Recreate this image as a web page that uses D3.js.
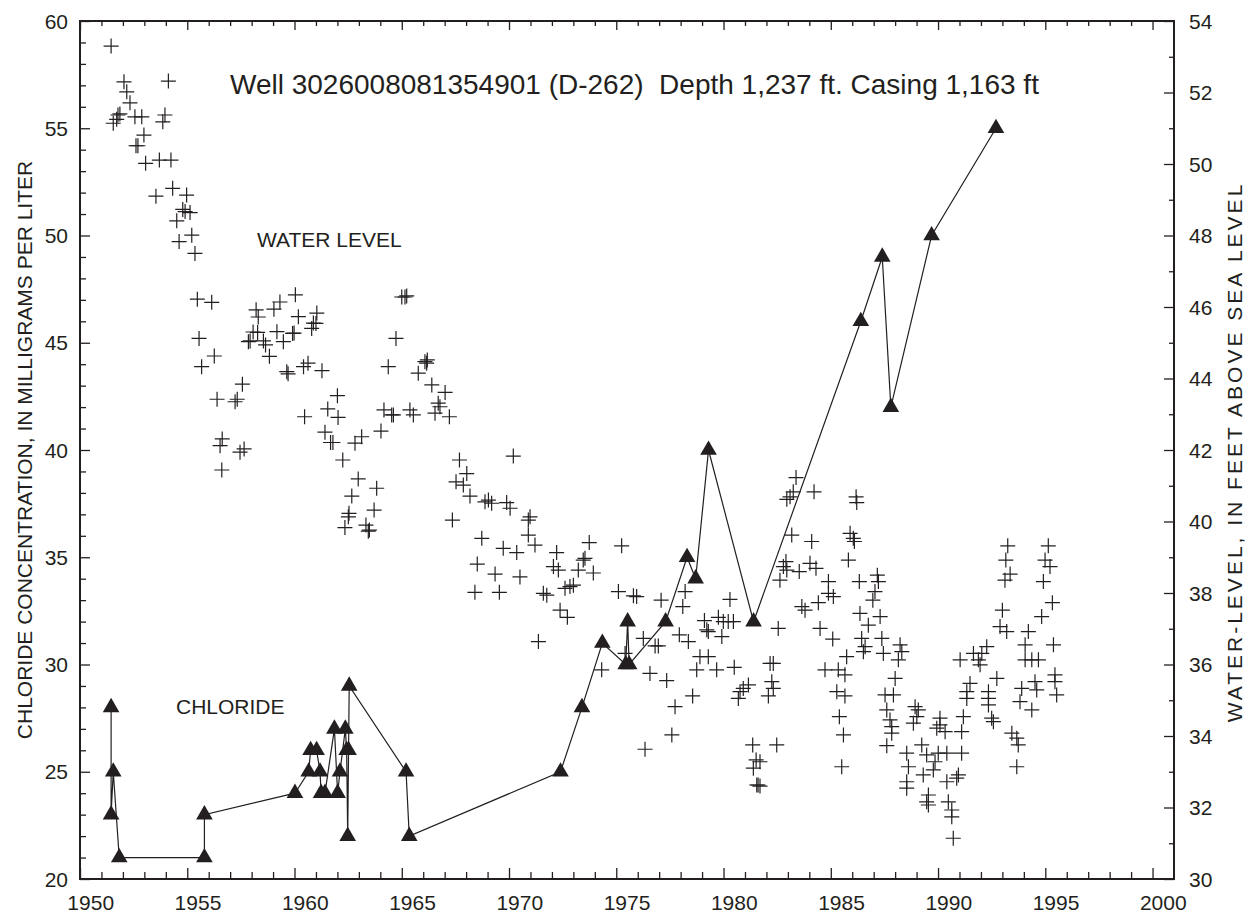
<!DOCTYPE html>
<html>
<head>
<meta charset="utf-8">
<script src="https://cdn.jsdelivr.net/npm/d3@7"></script>
<style>
  body { margin: 0; background: #fff; }
  text { font-family: "Liberation Sans", Arial, sans-serif; fill: #231f20; }
</style>
</head>
<body>
<svg id="chart"></svg>
<script>
// chloride samples (triangles, joined by a line), mg/L
var chlYears = [1951.45, 1951.45, 1951.55, 1951.83, 1955.8, 1955.8, 1960.02, 1960.66, 1960.75, 1961.03,
  1961.19, 1961.24, 1961.42, 1961.86, 1962.01, 1962.12, 1962.37, 1962.43, 1962.48, 1962.52, 1962.55,
  1965.2, 1965.35, 1972.4, 1973.4, 1974.35, 1975.44, 1975.53, 1975.6, 1977.3, 1978.3, 1978.7, 1979.3,
  1981.4, 1986.4, 1987.4, 1987.8, 1989.7, 1992.7];
var chlValues = [28, 23, 25, 21, 21, 23, 24, 25, 26, 26,
  25, 24, 24, 27, 24, 25, 27, 26, 22, 26, 29,
  25, 22, 25, 28, 31, 30, 32, 30, 32, 35, 34, 40,
  32, 46, 49, 42, 50, 55];

// water-level measurements (crosses), feet above sea level
var wlYears = [1951.45, 1952.05, 1954.12, 1952.18, 1952.33, 1951.77, 1951.86, 1951.55, 1951.71, 1952.56,
  1952.88, 1953.96, 1953.86, 1952.98, 1952.61, 1952.70, 1953.06, 1953.70, 1954.24, 1953.54,
  1954.32, 1954.97, 1954.79, 1954.90, 1955.13, 1954.51, 1954.62, 1955.21, 1955.36, 1955.47,
  1956.14, 1955.55, 1956.26, 1955.67, 1957.57, 1956.39, 1957.23, 1957.33, 1956.63, 1956.53,
  1957.46, 1957.65, 1956.61, 1958.21, 1958.31, 1959.04, 1959.32, 1960.04, 1960.18, 1961.04,
  1960.88, 1960.80, 1961.00, 1958.07, 1958.28, 1957.85, 1957.93, 1958.55, 1958.65, 1959.18,
  1959.91, 1959.98, 1959.48, 1958.83, 1959.64, 1959.70, 1960.42, 1960.63, 1961.28, 1960.47,
  1961.55, 1962.00, 1961.42, 1961.68, 1961.79, 1962.03, 1965.00, 1965.15, 1965.23, 1962.25,
  1963.13, 1962.82, 1964.03, 1964.17, 1964.53, 1964.61, 1965.38, 1965.54, 1964.73, 1964.37,
  1965.77, 1966.16, 1966.19, 1966.08, 1966.40, 1967.02, 1966.70, 1966.78, 1966.55, 1967.22,
  1967.69, 1968.03, 1962.97, 1963.83, 1962.67, 1963.71, 1962.51, 1962.54, 1962.35, 1963.33,
  1963.44, 1963.49, 1967.53, 1967.87, 1968.18, 1967.36, 1968.73, 1968.52, 1970.20, 1968.88,
  1969.04, 1969.19, 1969.89, 1970.05, 1970.98, 1970.90, 1970.90, 1969.73, 1970.36, 1971.21,
  1969.35, 1970.51, 1972.22, 1973.74, 1975.25, 1973.46, 1973.54, 1972.07, 1972.30, 1973.23,
  1973.93, 1968.41, 1969.55, 1971.60, 1971.76, 1972.61, 1972.84, 1973.00, 1972.38, 1972.72,
  1971.37, 1975.10, 1975.80, 1975.95, 1977.09, 1978.21, 1978.10, 1980.30, 1979.11, 1979.22,
  1979.76, 1979.99, 1980.22, 1980.46, 1979.29, 1979.92, 1977.94, 1978.36, 1976.26, 1976.81,
  1976.96, 1975.41, 1974.32, 1976.57, 1977.35, 1978.90, 1979.29, 1978.75, 1979.68, 1980.50,
  1980.77, 1980.92, 1981.16, 1980.69, 1978.56, 1977.74, 1977.59, 1976.34, 1981.36, 1981.52,
  1981.70, 1981.39, 1981.55, 1981.61, 1981.70,
  1983.38, 1983.25, 1983.10, 1982.95, 1984.22, 1986.18, 1986.21, 1983.18, 1984.11, 1985.90,
  1986.05, 1986.10, 1985.82, 1982.91, 1982.79, 1982.95, 1982.63, 1983.53, 1984.03, 1984.31,
  1984.89, 1984.89, 1985.12, 1984.42, 1983.65, 1983.80, 1986.33, 1987.17, 1987.22, 1987.06,
  1986.96, 1986.36, 1987.30, 1993.25, 1993.16, 1993.36, 1993.12, 1995.14, 1994.99, 1995.22,
  1994.91, 1995.33, 1993.00, 1994.83, 1982.55, 1984.50, 1985.09, 1986.75, 1986.44, 1986.60,
  1986.52, 1987.38, 1985.74, 1987.45, 1988.23, 1988.31, 1988.15, 1982.17, 1982.32, 1984.73,
  1985.35, 1985.66, 1988.00, 1982.25, 1982.32, 1982.09, 1985.28, 1985.66, 1987.53, 1987.92,
  1985.40, 1987.61, 1985.59, 1988.93, 1989.08, 1989.01, 1987.76, 1987.84, 1987.84, 1988.85,
  1990.09, 1990.09, 1989.94, 1990.33, 1987.61, 1988.54, 1989.24, 1988.62, 1989.47, 1990.01,
  1990.41, 1991.10, 1989.86, 1989.78, 1989.31, 1988.54, 1988.54, 1990.41, 1990.87, 1990.95,
  1989.55, 1991.10, 1991.03, 1991.65, 1991.88, 1991.96, 1992.27, 1992.04, 1991.49, 1991.34,
  1991.34, 1991.18, 1992.35, 1992.35, 1992.74, 1992.35, 1992.50, 1992.58, 1992.89, 1993.20,
  1994.21, 1994.06, 1995.38, 1994.06, 1994.37, 1994.68, 1993.90, 1994.52, 1994.60, 1995.45,
  1995.45, 1995.53, 1993.82, 1994.37, 1993.44, 1993.67, 1993.74, 1993.67, 1982.48, 1985.51,
  1989.47, 1989.55, 1990.48, 1990.64, 1990.64, 1990.71];
var wlLevels = [53.30, 52.30, 52.32, 52.02, 51.71, 51.37, 51.40, 51.14, 51.25, 51.32,
  51.32, 51.37, 51.18, 50.81, 50.51, 50.51, 50.02, 50.11, 50.11, 49.10,
  49.32, 49.13, 48.73, 48.67, 48.64, 48.41, 47.83, 48.01, 47.50, 46.22,
  46.13, 45.12, 44.63, 44.33, 43.84, 43.42, 43.35, 43.42, 42.31, 42.12,
  41.94, 42.03, 41.44, 45.92, 45.72, 45.94, 46.14, 46.34, 45.73, 45.83,
  45.55, 45.40, 45.54, 45.30, 45.29, 45.03, 45.05, 45.05, 44.94, 45.31,
  45.26, 45.27, 45.03, 44.62, 44.19, 44.13, 44.33, 44.43, 44.22, 42.93,
  43.15, 43.52, 42.50, 42.21, 42.21, 42.91, 46.28, 46.28, 46.31, 41.72,
  42.37, 42.19, 42.53, 43.12, 42.98, 42.98, 43.12, 42.98, 45.12, 44.33,
  44.15, 44.43, 44.52, 44.47, 43.82, 43.61, 43.31, 43.21, 43.03, 42.93,
  41.72, 41.34, 41.19, 40.93, 40.71, 40.32, 40.13, 40.23, 39.83, 39.90,
  39.73, 39.76, 41.11, 41.02, 40.71, 40.04, 39.53, 38.81, 41.83, 40.55,
  40.60, 40.51, 40.53, 40.37, 40.13, 40.04, 39.62, 39.25, 39.13, 39.34,
  38.53, 38.45, 39.13, 39.41, 39.32, 38.92, 38.97, 38.74, 38.64, 38.64,
  38.56, 38.02, 38.02, 37.99, 37.94, 38.13, 38.18, 38.22, 37.52, 37.32,
  36.64, 38.04, 37.92, 37.90, 37.80, 38.04, 37.62, 37.82, 37.23, 36.97,
  37.32, 37.20, 37.20, 37.20, 36.92, 36.78, 36.83, 36.64, 36.73, 36.52,
  36.52, 36.31, 35.85, 35.75, 35.55, 36.22, 36.22, 35.85, 35.85, 35.92,
  35.24, 35.33, 35.43, 35.05, 35.12, 34.82, 34.03, 33.63, 33.75, 33.33,
  33.28, 33.10, 32.63, 32.63, 32.60,
  41.23, 40.83, 40.69, 40.62, 40.83, 40.69, 40.53, 39.62, 39.44, 39.67,
  39.53, 39.44, 38.92, 38.88, 38.74, 38.64, 38.36, 38.60, 38.83, 38.69,
  38.32, 37.99, 37.90, 37.73, 37.62, 37.52, 38.32, 38.50, 38.32, 38.04,
  37.80, 37.43, 37.34, 39.32, 38.92, 38.53, 38.36, 39.32, 38.92, 38.74,
  38.32, 37.73, 37.52, 37.34, 37.01, 37.01, 36.71, 37.10, 36.73, 36.50,
  36.36, 36.73, 36.22, 36.31, 36.55, 36.36, 36.13, 36.03, 36.03, 35.85,
  35.85, 35.71, 35.61, 35.52, 35.33, 35.12, 35.24, 35.12, 35.15, 35.15,
  34.54, 34.73, 34.03, 34.82, 34.73, 34.54, 34.45, 34.26, 34.08, 34.36,
  34.50, 34.31, 34.22, 34.12, 33.73, 33.52, 33.75, 33.14, 33.47, 33.52,
  33.52, 33.52, 33.28, 33.05, 32.91, 32.72, 32.54, 32.72, 32.82, 32.91,
  32.35, 34.12, 36.13, 36.31, 36.13, 35.99, 36.50, 36.31, 35.47, 35.24,
  35.05, 34.54, 35.24, 35.05, 35.61, 34.87, 34.50, 34.40, 37.06, 36.92,
  36.92, 36.55, 36.55, 36.13, 36.13, 36.13, 35.33, 35.52, 35.29, 35.71,
  35.52, 35.15, 34.96, 34.73, 34.08, 33.94, 33.75, 33.14, 33.75, 33.14,
  32.16, 32.07, 32.16, 31.93, 31.74, 31.14];

var xTickYears = d3.range(1950, 2001, 5);
var clTicks = d3.range(20, 61, 5);
var wlTicks = d3.range(30, 55, 2);

var title = 'Well 3026008081354901 (D-262)  Depth 1,237 ft. Casing 1,163 ft';

var width = 1248,
  height = 914;
var ink = '#231f20';

var x = d3.scaleLinear().domain([1950, 2001]).range([80, 1174]);
var yCl = d3.scaleLinear().domain([20, 60]).range([879, 21]);
var yWl = d3.scaleLinear().domain([30, 54]).range([879, 21]);

var svg = d3.select('#chart')
  .attr('width', width)
  .attr('height', height);

svg.append('rect')
  .attr('width', width)
  .attr('height', height)
  .attr('fill', '#fff');

// inward tick marks on all four sides
function ticks(axis, vals, size) {
  return function(g) {
    g.call(axis.tickValues(vals).tickSize(size).tickFormat(''));
    g.select('.domain').remove();
    g.selectAll('line').attr('stroke', ink).attr('stroke-width', 1.3);
  };
}

var allYears = d3.range(1951, 2001);
var x0 = x.range()[0], x1 = x.range()[1], y0 = yCl.range()[1], y1 = yCl.range()[0];

svg.append('g').attr('transform', 'translate(0,' + y1 + ')')
  .call(ticks(d3.axisBottom(x), allYears.filter(function(d) { return d % 5; }), -7));
svg.append('g').attr('transform', 'translate(0,' + y1 + ')')
  .call(ticks(d3.axisBottom(x), xTickYears, -11));
svg.append('g').attr('transform', 'translate(0,' + y0 + ')')
  .call(ticks(d3.axisTop(x), allYears.filter(function(d) { return d % 5; }), -5));
svg.append('g').attr('transform', 'translate(0,' + y0 + ')')
  .call(ticks(d3.axisTop(x), xTickYears, -9));

svg.append('g').attr('transform', 'translate(' + x0 + ',0)')
  .call(ticks(d3.axisLeft(yCl), d3.range(21, 60).filter(function(d) { return d % 5; }), -6));
svg.append('g').attr('transform', 'translate(' + x0 + ',0)')
  .call(ticks(d3.axisLeft(yCl), clTicks, -10));
svg.append('g').attr('transform', 'translate(' + x1 + ',0)')
  .call(ticks(d3.axisRight(yWl), d3.range(31, 54, 2), -5));
svg.append('g').attr('transform', 'translate(' + x1 + ',0)')
  .call(ticks(d3.axisRight(yWl), wlTicks, -10));

svg.append('rect')
  .attr('x', x0)
  .attr('y', y0)
  .attr('width', x1 - x0)
  .attr('height', y1 - y0)
  .attr('fill', 'none')
  .attr('stroke', ink)
  .attr('stroke-width', 2);

// tick labels (year labels sit in the middle of the year)
svg.append('g').selectAll('text')
  .data(xTickYears)
  .enter().append('text')
  .attr('x', function(d) { return x(d + 0.5); })
  .attr('y', 910)
  .attr('text-anchor', 'middle')
  .attr('font-size', 21)
  .text(function(d) { return d; });

svg.append('g').selectAll('text')
  .data(clTicks)
  .enter().append('text')
  .attr('x', 68)
  .attr('y', function(d) { return yCl(d); })
  .attr('dy', '0.36em')
  .attr('text-anchor', 'end')
  .attr('font-size', 21)
  .text(function(d) { return d; });

svg.append('g').selectAll('text')
  .data(wlTicks)
  .enter().append('text')
  .attr('x', 1189)
  .attr('y', function(d) { return yWl(d); })
  .attr('dy', '0.36em')
  .attr('font-size', 21)
  .text(function(d) { return d; });

// axis titles
svg.append('text')
  .attr('transform', 'translate(32,450)rotate(-90)')
  .attr('text-anchor', 'middle')
  .attr('font-size', 21)
  .text('CHLORIDE CONCENTRATION, IN MILLIGRAMS PER LITER');

svg.append('text')
  .attr('transform', 'translate(1242,452)rotate(-90)')
  .attr('text-anchor', 'middle')
  .attr('font-size', 21)
  .attr('letter-spacing', 3)
  .text('WATER-LEVEL, IN FEET ABOVE SEA LEVEL');

svg.append('text')
  .attr('x', 230)
  .attr('y', 94)
  .attr('font-size', 28)
  .style('white-space', 'pre')
  .text(title);

svg.append('text')
  .attr('x', 257)
  .attr('y', 247)
  .attr('font-size', 21)
  .text('WATER LEVEL');

svg.append('text')
  .attr('x', 176)
  .attr('y', 714)
  .attr('font-size', 21)
  .text('CHLORIDE');

// water level crosses
var wl = wlYears.map(function(d, i) { return {year: d, level: wlLevels[i]}; });
svg.append('g')
  .selectAll('path')
  .data(wl)
  .enter().append('path')
  .attr('transform', function(d) { return 'translate(' + x(d.year) + ',' + yWl(d.level) + ')'; })
  .attr('d', 'M-7.5,0H7.5M0,-7.5V7.5')
  .attr('stroke', ink)
  .attr('stroke-width', 1.2)
  .attr('fill', 'none');

// chloride line + triangles
var cl = chlYears.map(function(d, i) { return {year: d, value: chlValues[i]}; });
svg.append('path')
  .datum(cl)
  .attr('d', d3.line()
    .x(function(d) { return x(d.year); })
    .y(function(d) { return yCl(d.value); }))
  .attr('fill', 'none')
  .attr('stroke', ink)
  .attr('stroke-width', 1.2);

svg.append('g')
  .selectAll('path')
  .data(cl)
  .enter().append('path')
  .attr('transform', function(d) { return 'translate(' + x(d.year) + ',' + yCl(d.value) + ')'; })
  .attr('d', d3.symbol(d3.symbolTriangle, 120))
  .attr('fill', ink);
</script>
</body>
</html>
